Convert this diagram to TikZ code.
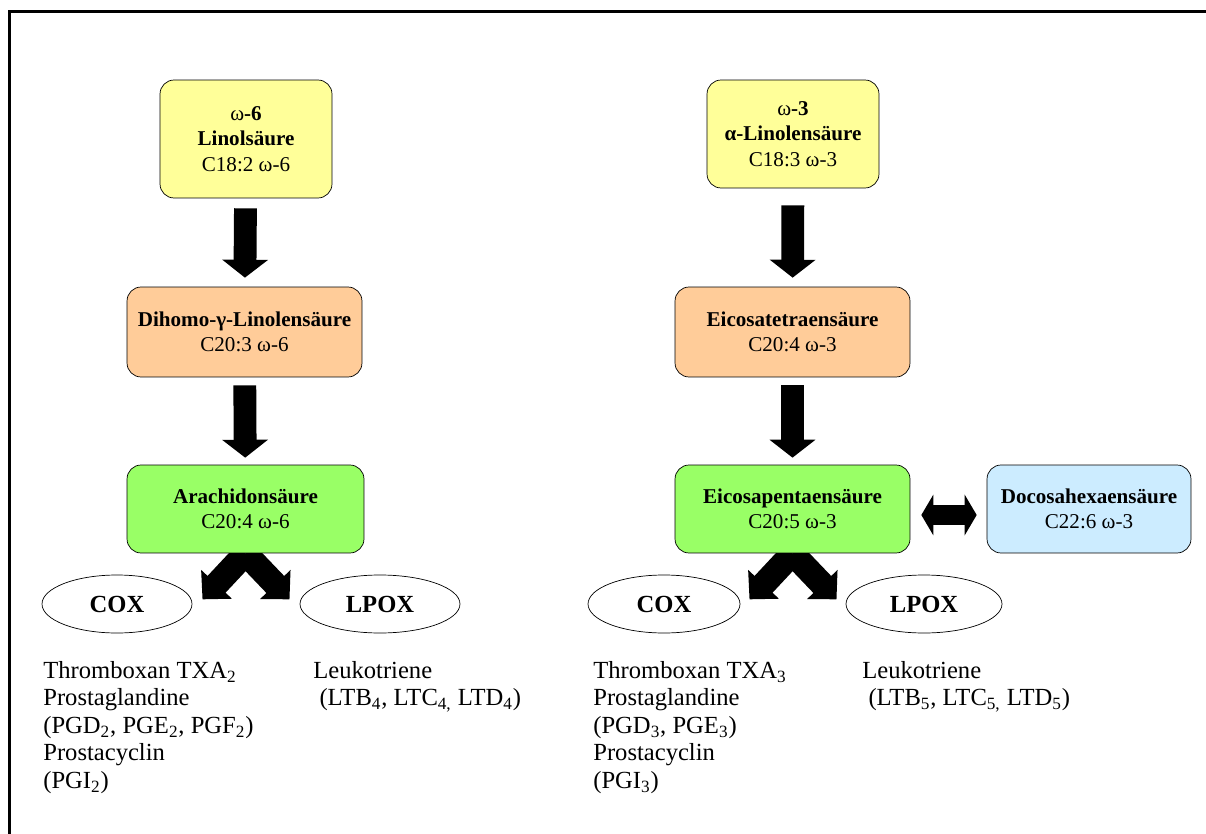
\documentclass[tikz,border=0pt]{standalone}
\usepackage{fontspec}
\setmainfont{Liberation Serif}
\usetikzlibrary{arrows.meta,positioning,calc,shapes.geometric}

\pgfdeclarelayer{background}
\pgfsetlayers{background,main}

\definecolor{fayellow}{RGB}{255,255,153}
\definecolor{faorange}{RGB}{255,204,153}
\definecolor{fagreen}{RGB}{153,255,102}
\definecolor{fablue}{RGB}{204,236,255}

\tikzset{
  acid/.style={draw, rounded corners=8pt, align=center, inner sep=0pt,
    font=\fontsize{12}{14.5}\selectfont},
  enzyme/.style={draw, ellipse, fill=white, inner sep=0pt, minimum height=1.16cm,
    font=\fontsize{14}{16}\selectfont\bfseries},
  products/.style={anchor=north west, align=left, inner sep=0pt,
    font=\fontsize{14}{15.65}\selectfont},
  downarrow/.style={line width=13pt, -{Triangle[width=25.6pt,length=10.2pt]}},
  botharrow/.style={line width=11.4pt, {Triangle[width=22.8pt,length=6.8pt]}-{Triangle[width=22.8pt,length=6.8pt]}},
  forkarrow/.style={line width=14pt, -{Triangle[width=23.3pt,length=11.7pt]}}
}

\begin{document}
\begin{tikzpicture}[x=0.02cm,y=-0.02cm]
\useasboundingbox (0,0) rectangle (1206,834);

% frame (top and left only)
\draw[line width=1.7pt] (9.5,834) -- (9.5,11.5) -- (1206,11.5);

% omega-6 branch (left)
\node[acid, fill=fayellow, minimum width=3.44cm, minimum height=2.36cm] (lin) at (246,139)
  {ω\textbf{-6}\\ \textbf{Linolsäure}\\ C18:2 ω-6};
\node[acid, fill=faorange, minimum width=4.7cm, minimum height=1.8cm] (dgla) at (244.5,332)
  {\textbf{Dihomo-γ-Linolensäure}\\ C20:3 ω-6};
\node[acid, fill=fagreen, minimum width=4.74cm, minimum height=1.76cm] (ara) at (245.5,509)
  {\textbf{Arachidonsäure}\\ C20:4 ω-6};

\node[enzyme, minimum width=3cm] (coxL) at (117,604) {COX};
\node[enzyme, minimum width=3.2cm] (lpoxL) at (380,604) {LPOX};

\draw[downarrow, shorten <=0.2cm, shorten >=0.18cm] (lin) -- (dgla);
\draw[downarrow, shorten <=0.16cm, shorten >=0.14cm] (dgla) -- (ara);

\coordinate (araL) at ($(ara.south)+(-43,46)$);
\coordinate (araR) at ($(ara.south)+(44,46)$);
\begin{pgfonlayer}{background}
\draw[forkarrow] (ara.south) -- (araL);
\draw[forkarrow] (ara.south) -- (araR);
\end{pgfonlayer}

\node[products] (prodCoxL) at (43,661)
  {Thromboxan TXA\textsubscript{2}\\ Prostaglandine\\
   (PGD\textsubscript{2}, PGE\textsubscript{2}, PGF\textsubscript{2})\\
   Prostacyclin\\ (PGI\textsubscript{2})};
\node[products] (prodLpoxL) at (313,661)
  {Leukotriene\\ \ (LTB\textsubscript{4}, LTC\textsubscript{4,} LTD\textsubscript{4})};

% omega-3 branch (right)
\node[acid, fill=fayellow, minimum width=3.44cm, minimum height=2.16cm] (alin) at (793,134)
  {ω\textbf{-3}\\ \textbf{α-Linolensäure}\\ C18:3 ω-3};
\node[acid, fill=faorange, minimum width=4.7cm, minimum height=1.8cm] (eta) at (792.5,332)
  {\textbf{Eicosatetraensäure}\\ C20:4 ω-3};
\node[acid, fill=fagreen, minimum width=4.7cm, minimum height=1.76cm] (epa) at (792.5,509)
  {\textbf{Eicosapentaensäure}\\ C20:5 ω-3};
\node[acid, fill=fablue, minimum width=4.08cm, minimum height=1.76cm] (dha) at (1089,509)
  {\textbf{Docosahexaensäure}\\ C22:6 ω-3};

\node[enzyme, minimum width=3.04cm] (coxR) at (664,604) {COX};
\node[enzyme, minimum width=3.12cm] (lpoxR) at (924,604) {LPOX};

\draw[downarrow, shorten <=0.34cm, shorten >=0.18cm] (alin) -- (eta);
\draw[downarrow, shorten <=0.16cm, shorten >=0.14cm] (eta) -- (epa);
\draw[botharrow, shorten <=0.22cm, shorten >=0.2cm] ($(epa.east)+(0,6)$) -- ($(dha.west)+(0,6)$);

\coordinate (epaL) at ($(epa.south)+(-43,46)$);
\coordinate (epaR) at ($(epa.south)+(44,46)$);
\begin{pgfonlayer}{background}
\draw[forkarrow] (epa.south) -- (epaL);
\draw[forkarrow] (epa.south) -- (epaR);
\end{pgfonlayer}

\node[products] (prodCoxR) at (593,661)
  {Thromboxan TXA\textsubscript{3}\\ Prostaglandine\\
   (PGD\textsubscript{3}, PGE\textsubscript{3})\\
   Prostacyclin\\ (PGI\textsubscript{3})};
\node[products] (prodLpoxR) at (862,661)
  {Leukotriene\\ \ (LTB\textsubscript{5}, LTC\textsubscript{5,} LTD\textsubscript{5})};
\end{tikzpicture}
\end{document}
